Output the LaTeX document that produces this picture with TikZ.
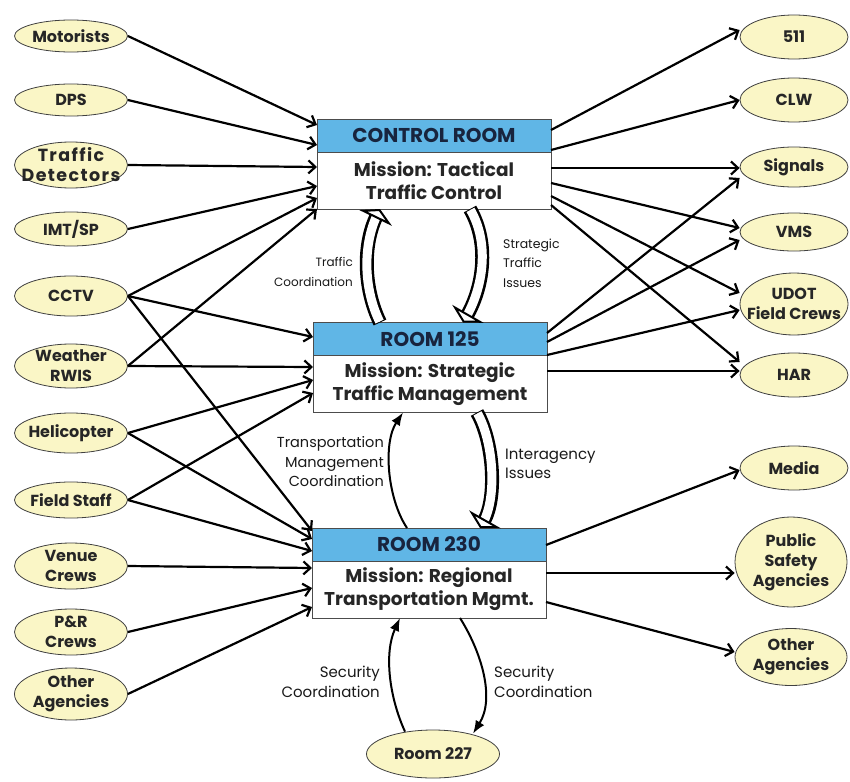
\documentclass[tikz,border=0pt]{standalone}
\usepackage{fontspec}
\setmainfont{Poppins}
\usetikzlibrary{positioning,shapes.geometric,arrows.meta}
\definecolor{gul}{RGB}{250,246,198}
\definecolor{himmel}{RGB}{96,182,230}
\definecolor{otsikko}{RGB}{24,36,62}
\newcommand\leveys{\fontsize{17.5}{20}\selectfont\addfontfeature{LetterSpace=8}}

\begin{document}
\begin{tikzpicture}[x=1pt,y=-1pt,
  ell/.style={draw=black!75, line width=0.8pt, fill=gul, ellipse, inner sep=0pt},
  eltxt/.style={font=\bfseries\fontsize{16}{20}\selectfont, align=center, text=black!85, inner sep=0pt},
  hdr/.style={draw=black!70, line width=0.8pt, fill=himmel, minimum width=234pt, minimum height=33pt,
    inner sep=0pt, outer sep=0pt, font=\bfseries\fontsize{20}{24}\selectfont, text=otsikko},
  body/.style={draw=black!70, line width=0.8pt, fill=white, minimum width=234pt, minimum height=57pt,
    inner sep=0pt, outer sep=0pt, align=center, font=\bfseries\fontsize{18.5}{23}\selectfont, text=black!85},
  lnk/.style={line width=2.2pt, -{Straight Barb[length=7pt,width=13pt]}},
  kaar/.style={line width=2pt, -{Latex[length=13pt,width=10pt]}},
  lbl/.style={font=\fontsize{#1}{19.5}\selectfont, text=black!90, inner sep=0pt},
  lbl/.default=12
]
\useasboundingbox (0,0) rectangle (850,781);
\fill[white] (0,0) rectangle (850,781);
\newcommand\pallo[5]{
\node[ell, minimum width=#3, minimum height=#4, label={[eltxt]center:{#5}}] (#1) at (#2) {};
}
\newcommand\huone[4]{
\node[hdr] (#1h) at (#2) {#3};
\node[body, below=0pt of #1h] (#1) {#4};
}
\newcommand\ontto[4]{
\draw[line width=14pt, shorten >=8pt] #1 .. controls #2 and #3 .. #4;
\draw[white, line width=9pt, shorten >=6pt, shorten <=1pt] #1 .. controls #2 and #3 .. #4;
\draw[white, line width=0.5pt, shorten <=1pt,
  -{Triangle[color=black, fill=white, line width=2pt, length=10pt, width=36pt]}] #1 .. controls #2 and #3 .. #4;
}
% rooms
\huone{cr}{434,135.5}{CONTROL ROOM}{Mission: Tactical\\Traffic Control}
\huone{rb}{430,339}{ROOM 125}{Mission: Strategic\\Traffic Management}
\huone{rc}{429,544.5}{ROOM 230}{Mission: Regional\\Transportation Mgmt.}
\pallo{rd}{433,754}{133pt}{48pt}{Room 227}
% sources
\pallo{mot}{71,36}{113pt}{32pt}{Motorists}
\pallo{dps}{71,100}{113pt}{32pt}{DPS}
\pallo{det}{71,165}{113pt}{46pt}{\leveys Traffic\\\leveys Detectors}
\pallo{imt}{71,229}{113pt}{34pt}{IMT/SP}
\pallo{cctv}{71,296}{113pt}{40pt}{CCTV}
\pallo{wea}{71,366}{113pt}{44pt}{Weather\\RWIS}
\pallo{heli}{71,433}{113pt}{40pt}{Helicopter}
\pallo{fs}{71,500}{113pt}{36pt}{Field Staff}
\pallo{ven}{71,566}{113pt}{46pt}{Venue\\Crews}
\pallo{pr}{71,632}{113pt}{46pt}{P\&R\\Crews}
\pallo{oth}{71,694}{113pt}{52pt}{Other\\Agencies}
% targets
\pallo{five}{794,37}{108pt}{44pt}{511}
\pallo{clw}{794,100}{108pt}{44pt}{CLW}
\pallo{sig}{794,167}{108pt}{40pt}{Signals}
\pallo{vms}{794,232}{108pt}{38pt}{VMS}
\pallo{udot}{794,304}{108pt}{62pt}{UDOT\\Field Crews}
\pallo{har}{794,375}{108pt}{44pt}{HAR}
\pallo{med}{794,468}{108pt}{44pt}{Media}
\pallo{psa}{791,562}{112pt}{90pt}{Public\\Safety\\Agencies}
\pallo{oag}{791,657}{112pt}{57pt}{Other\\Agencies}
% into control room
\draw[lnk] (mot.east) -- (crh.west |- 0,125);
\draw[lnk] (dps.east) -- (crh.west |- 0,145);
\draw[lnk] (det.east) -- (crh.west |- 0,167);
\draw[lnk] (imt.east) -- (crh.west |- 0,186);
\draw[lnk] (cctv.east) -- (crh.west |- 0,198);
\draw[lnk] (wea.east) -- (crh.west |- 0,209);
% into room 125
\draw[lnk] (cctv.east) -- (rbh.west |- 0,337);
\draw[lnk] (wea.east) -- (rbh.west |- 0,367);
\draw[lnk] (heli.east) -- (rbh.west |- 0,380);
\draw[lnk] (fs.east) -- (rbh.west |- 0,393);
% into room 230
\draw[lnk] (cctv.east) -- (rch.west |- 0,531);
\draw[lnk] (heli.east) -- (rch.west |- 0,539);
\draw[lnk] (fs.east) -- (rch.west |- 0,551);
\draw[lnk] (ven.east) -- (rch.west |- 0,568);
\draw[lnk] (pr.east) -- (rch.west |- 0,588);
\draw[lnk] (oth.east) -- (rch.west |- 0,607);
% out of control room
\draw[lnk] (crh.east |- 0,130) -- (five.west |- 0,30);
\draw[lnk] (crh.east |- 0,150) -- (clw.west);
\draw[lnk] (crh.east |- 0,168) -- (sig.west |- 0,168);
\draw[lnk] (crh.east |- 0,183) -- (vms.west |- 0,228);
\draw[lnk] (crh.east |- 0,196) -- (udot.west |- 0,293);
\draw[lnk] (crh.east |- 0,205) -- (har.west |- 0,362);
% out of room 125
\draw[lnk] (rbh.east |- 0,333) -- (sig.west |- 0,178);
\draw[lnk] (rbh.east |- 0,342) -- (vms.west |- 0,240);
\draw[lnk] (rbh.east |- 0,355) -- (udot.west |- 0,310);
\draw[lnk] (rbh.east |- 0,371) -- (har.west |- 0,371);
% out of room 230
\draw[lnk] (rch.east |- 0,545) -- (med.west |- 0,470);
\draw[lnk] (rch.east |- 0,573) -- (psa.west |- 0,573);
\draw[lnk] (rch.east |- 0,602) -- (oag.west |- 0,652);
% between rooms
\ontto{([xshift=-50pt]rbh.north)}{+(-17,-35)}{+(-17,35)}{([xshift=-54pt]cr.south)}
\ontto{([xshift=36pt]cr.south)}{+(20,35)}{+(20,-35)}{([xshift=33pt]rbh.north)}
\draw[kaar] ([xshift=-22pt]rch.north) .. controls +(-20,-30) and +(-20,30) .. ([xshift=-27pt]rb.south);
\ontto{([xshift=47pt]rb.south)}{+(17,30)}{+(17,-30)}{([xshift=51pt]rch.north)}
\draw[kaar] ([xshift=-28pt,yshift=-2pt]rd.north) .. controls +(-16,-35) and +(-16,35) .. ([xshift=-29pt]rc.south);
\draw[kaar] ([xshift=31pt]rc.south) .. controls +(22,35) and +(22,-35) .. ([xshift=40pt,yshift=-4pt]rd.north);
% labels
\node[lbl, anchor=east, align=right] (la) at (353,272) {Traffic\\Coordination};
\node[lbl=12.5, anchor=west, align=left] (lb) at (503,263) {Strategic\\Traffic\\Issues};
\node[lbl=14.5, anchor=east, align=right] (lc) at (384,462) {Transportation\\Management\\Coordination};
\node[lbl=15, anchor=west, align=left] (ld) at (505,464) {Interagency\\Issues};
\node[lbl=15, anchor=east, align=right] (le) at (380,682) {Security\\Coordination};
\node[lbl=15, anchor=west, align=left] (lf) at (494,682) {Security\\Coordination};
\end{tikzpicture}
\end{document}
